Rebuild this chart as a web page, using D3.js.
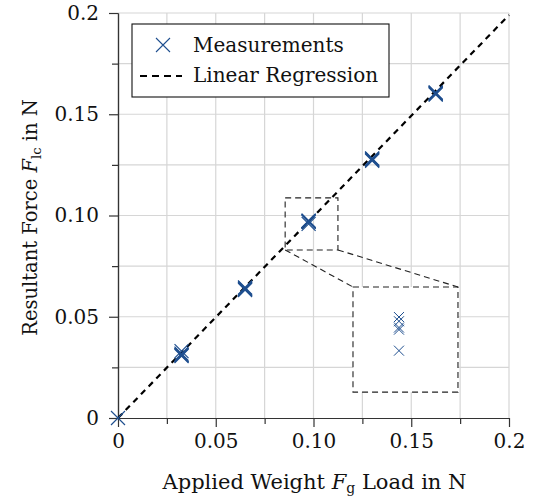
<!DOCTYPE html>
<html>
<head>
<meta charset="utf-8">
<script src="https://cdn.jsdelivr.net/npm/d3@7"></script>
<style>
    body { margin: 0; background: #fff; }
    svg text { font-family: "DejaVu Serif", serif; fill: #111; }
</style>
</head>
<body>
<div id="chart"></div>
<script>
// applied loads (N) and the repeated readings of the resultant force (N)
const loads = [0, 0.0325, 0.065, 0.0975, 0.13, 0.1625];
const forces = [
    [0],
    [0.0330, 0.0318, 0.0312, 0.0310, 0.0306],
    [0.0645, 0.0641, 0.0638, 0.0636, 0.0632],
    [0.0975, 0.0973, 0.0970, 0.0969, 0.0959],
    [0.1282, 0.1279, 0.1276, 0.1274, 0.1270],
    [0.1608, 0.1605, 0.1603, 0.1600, 0.1597]
];
const regSlope = 0.995;
const regX = [0, 0.2];

const majorTicks = [0, 0.05, 0.1, 0.15, 0.2];
const majorLabels = ["0", "0.05", "0.10", "0.15", "0.2"];
const minorTicks = [0.025, 0.075, 0.125, 0.175];
const gridTicks = [0.025, 0.05, 0.075, 0.1, 0.125, 0.15, 0.175, 0.2];

// zoomed region (data units) and where its magnified copy sits
const spyIndex = 3;
const spySource = {x0: 0.0855, x1: 0.1125, y0: 0.0830, y1: 0.1087};
const spyTarget = {x0: 0.1202, x1: 0.1739, y0: 0.0128, y1: 0.0647};
const spyDomainX = [0.09531, 0.10031];
const spyDomainY = [0.09393, 0.09893];

const W = 544, H = 499;
const blue = "#1f4f8f";

let svg = d3.select("#chart").append("svg")
    .attr("width", W)
    .attr("height", H);

let x = d3.scaleLinear().domain([0, 0.2]).range([118, 509]);
let y = d3.scaleLinear().domain([0, 0.2]).range([418, 13]);

let points = [];
loads.forEach(function (l, i) {
    forces[i].forEach(function (f) { points.push({x: l, y: f, group: i}); });
});

// grid
let grid = svg.append("g").attr("class", "grid")
    .attr("stroke", "#d6d6d6").attr("stroke-width", 1.2);
grid.selectAll(".gx").data(gridTicks).enter().append("line")
    .attr("x1", d => x(d)).attr("x2", d => x(d))
    .attr("y1", y(0)).attr("y2", y(0.2));
grid.selectAll(".gy").data(gridTicks).enter().append("line")
    .attr("y1", d => y(d)).attr("y2", d => y(d))
    .attr("x1", x(0)).attr("x2", x(0.2));

// axes
function styleAxis(g) {
    g.selectAll("path.domain").attr("stroke", "#333").attr("stroke-width", 1.2);
    g.selectAll(".tick line").attr("stroke", "#333").attr("stroke-width", 1.2);
    g.selectAll(".tick text").attr("font-family", "DejaVu Serif").attr("font-size", 20).attr("fill", "#111");
}

let fmt = d => majorLabels[majorTicks.indexOf(d)];

svg.append("g").attr("transform", "translate(0," + y(0) + ")")
    .call(d3.axisBottom(x).tickValues(minorTicks).tickSize(6).tickSizeOuter(0).tickFormat(""))
    .call(styleAxis);
svg.append("g").attr("transform", "translate(0," + y(0) + ")")
    .call(d3.axisBottom(x).tickValues(majorTicks).tickSize(9).tickSizeOuter(0).tickPadding(7).tickFormat(fmt))
    .call(styleAxis);
svg.append("g").attr("transform", "translate(" + x(0) + ",0)")
    .call(d3.axisLeft(y).tickValues(minorTicks).tickSize(6).tickSizeOuter(0).tickFormat(""))
    .call(styleAxis);
svg.append("g").attr("transform", "translate(" + x(0) + ",0)")
    .call(d3.axisLeft(y).tickValues(majorTicks).tickSize(9).tickSizeOuter(0).tickPadding(10).tickFormat(fmt))
    .call(styleAxis);

// axis titles
let xt = svg.append("text")
    .attr("x", (x(0) + x(0.2)) / 2 + 1).attr("y", 489)
    .attr("text-anchor", "middle").attr("font-size", 21);
xt.append("tspan").text("Applied Weight ");
xt.append("tspan").attr("font-style", "italic").text("F");
xt.append("tspan").attr("font-size", 14).attr("dy", 4).text("g");
xt.append("tspan").attr("dy", -4).text(" Load in N");

let yt = svg.append("text")
    .attr("transform", "translate(37," + ((y(0) + y(0.2)) / 2 + 2) + ") rotate(-90)")
    .attr("text-anchor", "middle").attr("font-size", 19.5);
yt.append("tspan").text("Resultant Force ");
yt.append("tspan").attr("font-style", "italic").text("F");
yt.append("tspan").attr("font-size", 13).attr("dy", 4).text("lc");
yt.append("tspan").attr("dy", -4).text(" in N");

// regression line
let line = d3.line().x(d => x(d)).y(d => y(regSlope * d));
svg.append("path").datum(regX)
    .attr("d", line)
    .attr("fill", "none").attr("stroke", "#000")
    .attr("stroke-width", 2.2).attr("stroke-dasharray", "6,5");

// measurement marks
function cross(r) {
    return "M" + (-r) + "," + (-r) + "L" + r + "," + r + "M" + (-r) + "," + r + "L" + r + "," + (-r);
}
svg.append("g").selectAll("path").data(points).enter().append("path")
    .attr("d", cross(7))
    .attr("transform", d => "translate(" + x(d.x) + "," + y(d.y) + ")")
    .attr("fill", "none").attr("stroke", blue).attr("stroke-width", 1.2);

// spy: source box, connectors, magnified box
let dash = {stroke: "#222", "stroke-width": 1.1, "stroke-dasharray": "6,4", fill: "none"};
function applyDash(sel) {
    Object.keys(dash).forEach(k => sel.attr(k, dash[k]));
    return sel;
}
let spy = svg.append("g").attr("class", "spy");
applyDash(spy.append("rect")
    .attr("x", x(spySource.x0)).attr("y", y(spySource.y1))
    .attr("width", x(spySource.x1) - x(spySource.x0))
    .attr("height", y(spySource.y0) - y(spySource.y1)));
applyDash(spy.append("rect")
    .attr("x", x(spyTarget.x0)).attr("y", y(spyTarget.y1))
    .attr("width", x(spyTarget.x1) - x(spyTarget.x0))
    .attr("height", y(spyTarget.y0) - y(spyTarget.y1)))
    .attr("fill", "#fff");
applyDash(spy.append("line")
    .attr("x1", x(spySource.x0)).attr("y1", y(spySource.y0))
    .attr("x2", x(spyTarget.x0)).attr("y2", y(spyTarget.y1)));
applyDash(spy.append("line")
    .attr("x1", x(spySource.x1)).attr("y1", y(spySource.y0))
    .attr("x2", x(spyTarget.x1)).attr("y2", y(spyTarget.y1)));

let sx = d3.scaleLinear().domain(spyDomainX).range([x(spyTarget.x0), x(spyTarget.x1)]);
let sy = d3.scaleLinear().domain(spyDomainY).range([y(spyTarget.y0), y(spyTarget.y1)]);
spy.append("g").selectAll("path").data(points.filter(p => p.group === spyIndex)).enter().append("path")
    .attr("d", cross(5))
    .attr("transform", d => "translate(" + sx(d.x) + "," + sy(d.y) + ")")
    .attr("fill", "none").attr("stroke", blue).attr("stroke-width", 1);

// legend
let lg = svg.append("g").attr("class", "legend");
lg.append("rect").attr("x", 132).attr("y", 24).attr("width", 257).attr("height", 73)
    .attr("fill", "#fff").attr("stroke", "#111").attr("stroke-width", 1.1);
lg.append("path").attr("d", cross(7)).attr("transform", "translate(163,45)")
    .attr("fill", "none").attr("stroke", blue).attr("stroke-width", 1.1);
lg.append("line").attr("x1", 140).attr("x2", 182).attr("y1", 76).attr("y2", 76)
    .attr("stroke", "#000").attr("stroke-width", 2.2).attr("stroke-dasharray", "7,5");
lg.append("text").attr("x", 193).attr("y", 52).attr("font-size", 20).text("Measurements");
lg.append("text").attr("x", 193).attr("y", 82).attr("font-size", 20).text("Linear Regression");
</script>
</body>
</html>
